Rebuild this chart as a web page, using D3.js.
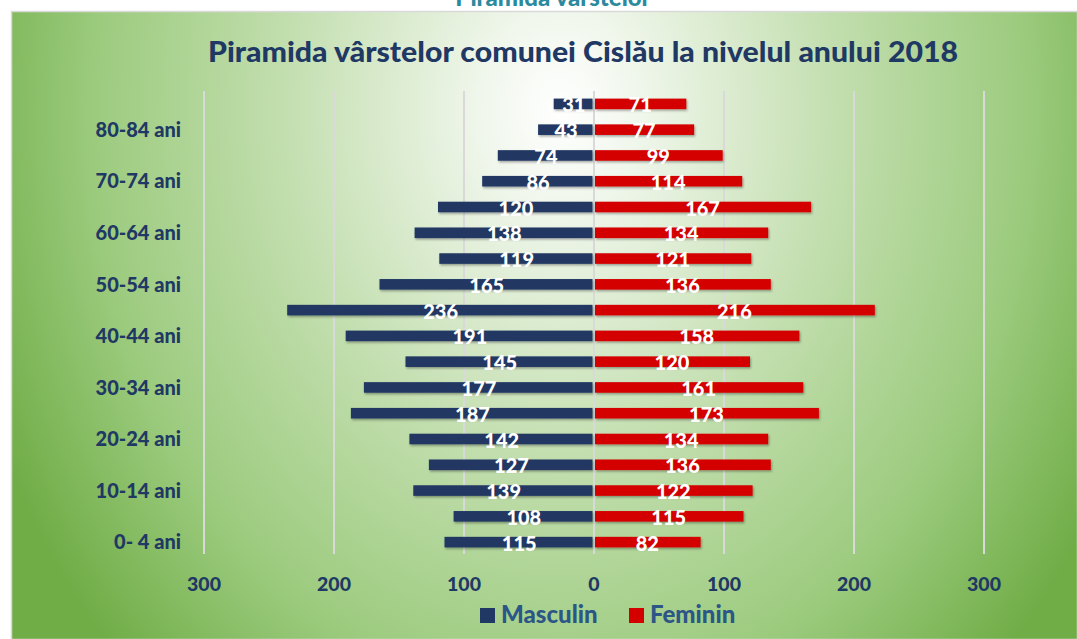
<!DOCTYPE html>
<html>
<head>
<meta charset="utf-8">
<script src="https://cdn.jsdelivr.net/npm/d3@7"></script>
<style>
  html, body { margin: 0; padding: 0; background: #ffffff; }
  svg { display: block; }
  text { font-family: Lato, "Open Sans", sans-serif; font-weight: 900; }
</style>
</head>
<body>
<svg id="chart" width="1077" height="639"></svg>
<script>
// ---- data ----
const categories = ["0- 4 ani","5-9 ani","10-14 ani","15-19 ani","20-24 ani","25-29 ani","30-34 ani","35-39 ani","40-44 ani","45-49 ani","50-54 ani","55-59 ani","60-64 ani","65-69 ani","70-74 ani","75-79 ani","80-84 ani","85+ ani"];
const masculin = [115,108,139,127,142,187,177,145,191,236,165,119,138,120,86,74,43,31];
const feminin  = [82,115,122,136,134,173,161,120,158,216,136,121,134,167,114,99,77,71];
const tickValues = [-300,-200,-100,0,100,200,300];
const seriesNames = ["Masculin","Feminin"];
const seriesColors = ["#203864","#d40000"];
const pageTitle = "Piramida vârstelor";
const chartTitle = "Piramida vârstelor comunei Cislău la nivelul anului 2018";

const W = 1077, H = 639;
const svg = d3.select("#chart");
const defs = svg.append("defs");

// background gradient
const rg = defs.append("radialGradient").attr("id","bg")
  .attr("gradientUnits","userSpaceOnUse")
  .attr("cx",0).attr("cy",0).attr("r",1)
  .attr("gradientTransform","translate(560,110) scale(620,780)");
[[0,"#ffffff"],[0.12,"#f1f7ed"],[0.45,"#c2deae"],[0.75,"#9ccb7e"],[1,"#70ad47"]]
  .forEach(([o,c]) => rg.append("stop").attr("offset",o).attr("stop-color",c));

const sh = defs.append("filter").attr("id","shadow").attr("x","-5%").attr("y","-50%").attr("width","110%").attr("height","200%");
sh.append("feDropShadow").attr("dx",1).attr("dy",1.5).attr("stdDeviation",1).attr("flood-color","#000").attr("flood-opacity",0.35);

// page title (cut off at top, as in the reference)
svg.append("text").attr("x",553).attr("y",6).attr("text-anchor","middle")
  .attr("font-size",24).attr("fill","#2b8a9e").text(pageTitle);

// chart box
svg.append("rect").attr("x",11.5).attr("y",11.5).attr("width",W-11).attr("height",H-11)
  .attr("fill","url(#bg)").attr("stroke","#d9d9d9").attr("stroke-width",1.5);

// title
svg.append("text").attr("x",583).attr("y",62).attr("text-anchor","middle")
  .attr("font-size",28).attr("fill","#1f3864")
  .attr("textLength",750).attr("lengthAdjust","spacingAndGlyphs").text(chartTitle);

// scales
const x = d3.scaleLinear().domain([-300,300]).range([204,984]);
const y = d3.scaleBand().domain(categories).range([555,91]).paddingInner(0.59).paddingOuter(0.295);

// gridlines
svg.append("g").selectAll("line").data(tickValues).join("line")
  .attr("x1",d=>x(d)).attr("x2",d=>x(d)).attr("y1",91).attr("y2",554)
  .attr("stroke","#d9d9d9").attr("stroke-width",2);

// x tick labels
svg.append("g").selectAll("text").data(tickValues).join("text")
  .attr("x",d=>x(d)).attr("y",591).attr("text-anchor","middle")
  .attr("font-size",19.5).attr("fill","#1f3864").text(d=>Math.abs(d));

// y labels (every other category)
svg.append("g").selectAll("text").data(categories.filter((c,i)=>i%2===0)).join("text")
  .attr("x",181).attr("y",d=>y(d)+y.bandwidth()/2).attr("dy","0.36em").attr("text-anchor","end")
  .attr("font-size",20).attr("fill","#1f3864").text(d=>d);

const x0 = x(0);
const bars = svg.append("g").attr("filter","url(#shadow)");
bars.selectAll("rect.m").data(masculin).join("rect").attr("class","m")
  .attr("x",d=>x(-d)).attr("width",d=>x0-1.5-x(-d))
  .attr("y",(d,i)=>y(categories[i])).attr("height",y.bandwidth())
  .attr("fill",seriesColors[0]);
bars.selectAll("rect.f").data(feminin).join("rect").attr("class","f")
  .attr("x",x0+1).attr("width",d=>x(d)-x0-1)
  .attr("y",(d,i)=>y(categories[i])).attr("height",y.bandwidth())
  .attr("fill",seriesColors[1]);

// labels
const lab = svg.append("g");
lab.selectAll("text.m").data(masculin).join("text").attr("class","m")
  .attr("x",d=>(x(-d)+x0)/2).attr("y",(d,i)=>y(categories[i])+y.bandwidth()/2+8.5)
  .attr("text-anchor","middle").attr("font-size",20).attr("fill","#ffffff").text(d=>d);
lab.selectAll("text.f").data(feminin).join("text").attr("class","f")
  .attr("x",d=>(x(d)+x0)/2).attr("y",(d,i)=>y(categories[i])+y.bandwidth()/2+8.5)
  .attr("text-anchor","middle").attr("font-size",20).attr("fill","#ffffff").text(d=>d);

// legend
const legX = [480, 629];
const leg = svg.append("g");
seriesNames.forEach((n,i)=>{
  leg.append("rect").attr("x",legX[i]).attr("y",608).attr("width",15).attr("height",15).attr("fill",seriesColors[i]);
  leg.append("text").attr("x",legX[i]+21).attr("y",623).attr("font-size",24).attr("fill","#2c5687").text(n);
});
</script>
</body>
</html>
